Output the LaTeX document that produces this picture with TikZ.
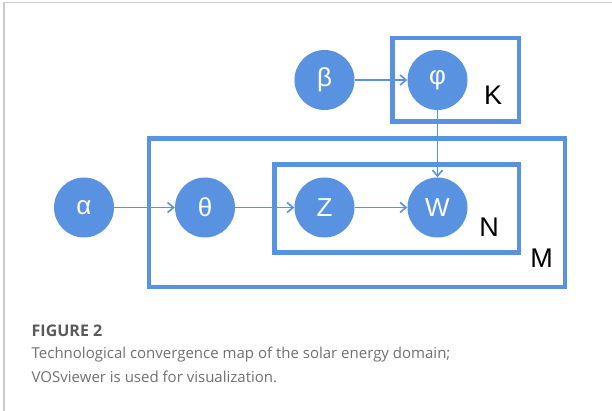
\documentclass[tikz,border=0pt]{standalone}
\usepackage{fontspec}
\setmainfont{Liberation Sans}
\newfontfamily\capfont{Open Sans}
\usetikzlibrary{arrows.meta}
\definecolor{lda}{HTML}{5A92E2}
\definecolor{frm}{HTML}{CCCCCC}
\definecolor{capg}{HTML}{707070}
\definecolor{capd}{HTML}{595959}
\tikzset{
  var/.style ={circle,fill=lda,minimum size=60pt,inner sep=0pt,text=white,font=\fontsize{26}{30}\selectfont},
  a/.style   ={-{Straight Barb[length=6pt,width=10pt]},line width=1.6pt,lda},
  plt/.style ={draw=lda,line width=4.3pt},
  plbl/.style={font=\fontsize{27}{30}\selectfont,text=black},
  captxt/.style={anchor=base west,inner sep=0pt,font=\capfont\fontsize{15}{18}\selectfont,text=capg},
}

\begin{document}
\begin{tikzpicture}[x=1pt,y=-1pt]
\useasboundingbox (0,0) rectangle (612,411);
% frame
\draw[frm,line width=1.5pt] (4,411) -- (4,2.5) -- (612,2.5);
% plates
\draw[plt] (392.5,38) rectangle (519,121.5);
\draw[plt] (149,138.5) rectangle (565,287);
\draw[plt] (274.5,164.5) rectangle (519,252.5);
\node[plbl] (lK) at (493,95) {K};
\node[plbl] (lN) at (489,227) {N};
\node[plbl] (lM) at (541.5,258) {M};
% variables
\node[var] (al) at (84,207.5) {α};
\node[var] (th) at (205,207.5) {θ};
\node[var] (z) at (324.5,207.5) {Z};
\node[var] (w) at (437.5,207.5) {W};
\node[var] (be) at (324.5,80) {β};
\node[var] (ph) at (437.5,80) {φ};
% edges
\draw[a] (al) -- (th); \draw[a] (th) -- (z); \draw[a] (z) -- (w);
\draw[a] (be) -- (ph); \draw[a] (ph) -- (w);
% caption
\node[captxt,text=capd,font=\capfont\bfseries\fontsize{16}{19}\selectfont] (fig) at (31.5,336) {FIGURE 2};
\node[captxt] (ln1) at (31.5,358.5) {Technological convergence map of the solar energy domain;};
\node[captxt] (ln2) at (31.5,382.5) {VOSviewer is used for visualization.};
\end{tikzpicture}
\end{document}
